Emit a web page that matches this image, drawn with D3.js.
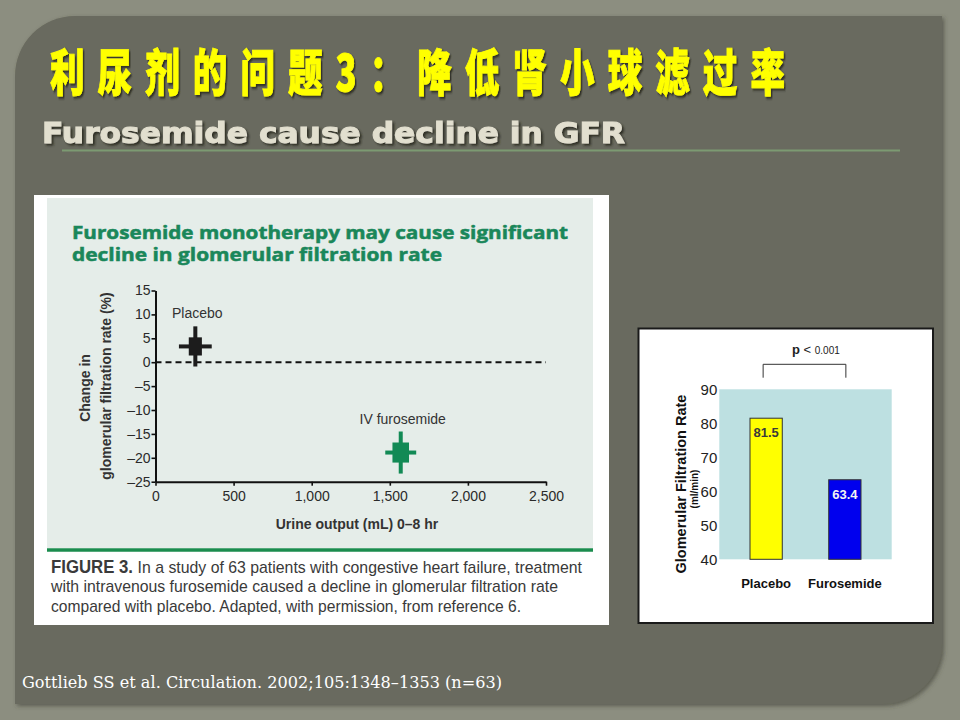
<!DOCTYPE html>
<html>
<head>
<meta charset="utf-8">
<script src="https://cdn.jsdelivr.net/npm/d3@7"></script>
<style>
body { margin: 0; background: #8c8e80; }
svg { display: block; }
</style>
</head>
<body>
<script>
// slide texts
var titleText = "利尿剂的问题3：降低肾小球滤过率";
var subtitleText = "Furosemide cause decline in GFR";
var citation = "Gottlieb SS et al. Circulation. 2002;105:1348–1353 (n=63)";

// left figure: urine output vs change in GFR
var groups = ["Placebo", "IV furosemide"];
var groupColors = ["#1c1c1c", "#128a55"];
var urineOutput = [255, 1570];   // mL 0-8 hr
var urineSE = [42, 53];
var urineSD = [105, 99];
var gfrChange = [3.3, -18.9];    // %
var gfrSE = [1.9, 2.1];
var gfrSD = [4.2, 4.4];
var xTicks = [0, 500, 1000, 1500, 2000, 2500];
var yTicks = [15, 10, 5, 0, -5, -10, -15, -20, -25];
var captionLines = [
    "In a study of 63 patients with congestive heart failure, treatment",
    "with intravenous furosemide caused a decline in glomerular filtration rate",
    "compared with placebo. Adapted, with permission, from reference 6."
];

// right figure: GFR bars
var barCats = ["Placebo", "Furosemide"];
var barValues = [81.5, 63.4];
var barTicks = [40, 50, 60, 70, 80, 90];

var svg = d3.select("body").append("svg")
    .attr("width", 960)
    .attr("height", 720);

var defs = svg.append("defs");
defs.append("filter").attr("id", "shadow")
    .attr("x", "-5%").attr("y", "-20%").attr("width", "110%").attr("height", "140%")
    .append("feDropShadow")
    .attr("dx", 2).attr("dy", 2).attr("stdDeviation", 0.8)
    .attr("flood-color", "#2a2a1a").attr("flood-opacity", 0.9);
defs.append("filter").attr("id", "panelShadow")
    .append("feDropShadow")
    .attr("dx", 2).attr("dy", 2).attr("stdDeviation", 2)
    .attr("flood-color", "#3a3a30").attr("flood-opacity", 0.6);

// dark slide panel, rounded top-left and bottom-right
var L = 15, T = 16, R = 942, B = 704, r = 60;
svg.append("path")
    .attr("d", "M" + L + "," + (T + r) + " A" + r + "," + r + " 0 0 1 " + (L + r) + "," + T +
        " L" + R + "," + T + " L" + R + "," + (B - r) +
        " A" + r + "," + r + " 0 0 1 " + (R - r) + "," + B +
        " L" + L + "," + B + " Z")
    .attr("fill", "#696a5e")
    .attr("filter", "url(#panelShadow)");

// title
svg.append("text")
    .attr("transform", "translate(50,91) scale(0.72,1.05)")
    .attr("textLength", 735 / 0.72)
    .attr("lengthAdjust", "spacing")
    .style("font-family", "'Noto Sans CJK SC'")
    .style("font-weight", 900)
    .style("font-size", "48px")
    .attr("fill", "#ffff00")
    .attr("stroke", "#ffff00").attr("stroke-width", 0.8)
    .attr("filter", "url(#shadow)")
    .text(titleText);

svg.append("text")
    .attr("x", 42).attr("y", 143)
    .attr("textLength", 583)
    .attr("lengthAdjust", "spacingAndGlyphs")
    .style("font-family", "'DejaVu Sans'")
    .style("font-weight", "bold")
    .style("font-size", "29px")
    .attr("fill", "#e2dfcf")
    .attr("stroke", "#e2dfcf").attr("stroke-width", 1)
    .attr("filter", "url(#shadow)")
    .text(subtitleText);

svg.append("line")
    .attr("x1", 62).attr("x2", 900).attr("y1", 150.5).attr("y2", 150.5)
    .attr("stroke", "#7c9a72").attr("stroke-width", 2);

// ---------- left figure ----------
svg.append("rect").attr("x", 34).attr("y", 195).attr("width", 575).attr("height", 430).attr("fill", "#ffffff");
svg.append("rect").attr("x", 47).attr("y", 198).attr("width", 546).attr("height", 350).attr("fill", "#e5ede9");
svg.append("line").attr("x1", 47).attr("x2", 593).attr("y1", 550).attr("y2", 550)
    .attr("stroke", "#1b8c4e").attr("stroke-width", 3.5);

var headG = svg.append("g")
    .style("font-family", "'Open Sans'")
    .style("font-weight", "bold")
    .style("font-size", "17px")
    .attr("fill", "#1a875a")
    .attr("stroke", "#1a875a").attr("stroke-width", 0.5);
headG.append("text").attr("x", 72).attr("y", 239).attr("textLength", 496)
    .attr("lengthAdjust", "spacingAndGlyphs").text("Furosemide monotherapy may cause significant");
headG.append("text").attr("x", 72).attr("y", 261).attr("textLength", 370)
    .attr("lengthAdjust", "spacingAndGlyphs").text("decline in glomerular filtration rate");

var xL = d3.scaleLinear().domain([0, 2500]).range([155.5, 546]);
var yL = d3.scaleLinear().domain([-25, 15]).range([481.7, 290.5]);

var fmtMinus = function (d) { return d < 0 ? "–" + Math.abs(d) : d; };

var yAxisL = svg.append("g")
    .attr("transform", "translate(155.5,0)")
    .call(d3.axisLeft(yL).tickValues(yTicks).tickSizeInner(4).tickSizeOuter(0).tickPadding(1).tickFormat(fmtMinus));
var xAxisL = svg.append("g")
    .attr("transform", "translate(0,481.7)")
    .call(d3.axisBottom(xL).tickValues(xTicks).tickSizeInner(4).tickSizeOuter(0).tickPadding(5).tickFormat(d3.format(",")));

[yAxisL, xAxisL].forEach(function (a) {
    a.select(".domain").attr("stroke", "#111").attr("stroke-width", 2);
    a.selectAll(".tick line").attr("stroke", "#111").attr("stroke-width", 1.6);
    a.selectAll(".tick text")
        .style("font-family", "'Liberation Sans Narrow', 'Liberation Sans'")
        .style("font-size", "14px")
        .attr("fill", "#2a2a2a");
});

// zero reference line
svg.append("line")
    .attr("x1", xL(0)).attr("x2", xL(2500))
    .attr("y1", yL(0)).attr("y2", yL(0))
    .attr("stroke", "#111").attr("stroke-width", 2)
    .attr("stroke-dasharray", "6,4");

// axis titles
var axT = svg.append("g")
    .style("font-family", "'Liberation Sans Narrow', 'Liberation Sans'")
    .style("font-weight", "bold")
    .style("font-size", "14px")
    .attr("fill", "#333");
axT.append("text").attr("transform", "translate(90,388) rotate(-90)")
    .attr("text-anchor", "middle").text("Change in");
axT.append("text").attr("transform", "translate(111,386) rotate(-90)")
    .attr("text-anchor", "middle").text("glomerular filtration rate (%)");
axT.append("text").attr("x", 357).attr("y", 529)
    .attr("text-anchor", "middle").text("Urine output (mL) 0–8 hr");

// markers: SD whiskers and SE box
var idx = d3.range(groups.length);
var mk = svg.append("g").selectAll("g").data(idx).join("g")
    .attr("fill", function (i) { return groupColors[i]; });
mk.append("rect")
    .attr("x", function (i) { return xL(urineOutput[i] - urineSD[i]); })
    .attr("width", function (i) { return xL(urineOutput[i] + urineSD[i]) - xL(urineOutput[i] - urineSD[i]); })
    .attr("y", function (i) { return yL(gfrChange[i]) - 2; })
    .attr("height", 4);
mk.append("rect")
    .attr("x", function (i) { return xL(urineOutput[i]) - 2; })
    .attr("width", 4)
    .attr("y", function (i) { return yL(gfrChange[i] + gfrSD[i]); })
    .attr("height", function (i) { return yL(gfrChange[i] - gfrSD[i]) - yL(gfrChange[i] + gfrSD[i]); });
mk.append("rect")
    .attr("x", function (i) { return xL(urineOutput[i] - urineSE[i]); })
    .attr("width", function (i) { return xL(urineOutput[i] + urineSE[i]) - xL(urineOutput[i] - urineSE[i]); })
    .attr("y", function (i) { return yL(gfrChange[i] + gfrSE[i]); })
    .attr("height", function (i) { return yL(gfrChange[i] - gfrSE[i]) - yL(gfrChange[i] + gfrSE[i]); });
mk.append("text")
    .attr("x", function (i) { return xL(urineOutput[i]) + 2; })
    .attr("y", function (i) { return yL(gfrChange[i] + gfrSD[i]) - 8; })
    .attr("text-anchor", "middle")
    .style("font-family", "'Liberation Sans Narrow', 'Liberation Sans'")
    .style("font-size", "14px")
    .attr("fill", "#333")
    .text(function (i) { return groups[i]; });

// caption
var cap = svg.append("g")
    .style("font-family", "'Liberation Sans Narrow', 'Liberation Sans'")
    .style("font-size", "17px")
    .attr("fill", "#3a3a3a");
var capLens = [531, 507, 470];
captionLines.forEach(function (t, i) {
    var tx = cap.append("text").attr("x", 51).attr("y", 572.5 + i * 19.5)
        .attr("textLength", capLens[i]).attr("lengthAdjust", "spacingAndGlyphs");
    if (i === 0) {
        tx.append("tspan").style("font-weight", "bold").style("font-size", "18px").text("FIGURE 3. ");
    }
    tx.append("tspan").text(t);
});

// ---------- right figure ----------
svg.append("rect").attr("x", 638.5).attr("y", 328.5).attr("width", 294.5).attr("height", 294.5)
    .attr("fill", "#ffffff").attr("stroke", "#1a1a1a").attr("stroke-width", 2);

var xR = d3.scaleBand().domain(barCats).range([719.3, 891.7]).paddingInner(0.59).paddingOuter(0.39);
var yR = d3.scaleLinear().domain([40, 90]).range([559.3, 389.3]);

svg.append("rect")
    .attr("x", 719.3).attr("y", yR(90))
    .attr("width", 891.7 - 719.3).attr("height", yR(40) - yR(90))
    .attr("fill", "#bde0e1");

var yAxisR = svg.append("g")
    .attr("transform", "translate(719.3,0)")
    .call(d3.axisLeft(yR).tickValues(barTicks).tickSize(0).tickPadding(2));
yAxisR.select(".domain").remove();
yAxisR.selectAll(".tick text")
    .style("font-family", "'Liberation Sans'")
    .style("font-size", "15px")
    .attr("fill", "#222");

var barColors = ["#ffff00", "#0000ee"];
var labelColors = ["#3a3a3a", "#f4f4f4"];
svg.append("g").selectAll("rect").data(barCats).join("rect")
    .attr("x", function (d) { return xR(d); })
    .attr("width", xR.bandwidth())
    .attr("y", function (d, i) { return yR(barValues[i]); })
    .attr("height", function (d, i) { return yR(40) - yR(barValues[i]); })
    .attr("fill", function (d, i) { return barColors[i]; })
    .attr("stroke", "#333").attr("stroke-width", 1);

var rf = svg.append("g")
    .style("font-family", "'Liberation Sans'")
    .style("font-weight", "bold")
    .attr("text-anchor", "middle");
rf.selectAll(".val").data(barCats).join("text")
    .attr("class", "val")
    .attr("x", function (d) { return xR(d) + xR.bandwidth() / 2; })
    .attr("y", function (d, i) { return yR(barValues[i]) + 19; })
    .style("font-size", "13px")
    .attr("fill", function (d, i) { return labelColors[i]; })
    .text(function (d, i) { return barValues[i].toFixed(1); });
rf.selectAll(".cat").data(barCats).join("text")
    .attr("class", "cat")
    .attr("x", function (d) { return xR(d) + xR.bandwidth() / 2; })
    .attr("y", 588)
    .style("font-size", "13px")
    .attr("fill", "#111")
    .text(function (d) { return d; });

rf.append("text")
    .attr("transform", "translate(686,484) rotate(-90)")
    .style("font-size", "14.5px")
    .attr("fill", "#111")
    .text("Glomerular Filtration Rate");
rf.append("text")
    .attr("transform", "translate(698,489) rotate(-90)")
    .style("font-size", "10px")
    .attr("fill", "#111")
    .text("(ml/min)");

// significance bracket
var bx1 = xR(barCats[0]) + xR.bandwidth() / 2 - 3;
var bx2 = xR(barCats[1]) + xR.bandwidth() / 2 + 1;
svg.append("path")
    .attr("d", "M" + bx1 + ",377.7 V364.3 H" + bx2 + " V377.7")
    .attr("fill", "none").attr("stroke", "#333").attr("stroke-width", 1);
var pt = svg.append("text")
    .attr("x", 792).attr("y", 353.5)
    .style("font-family", "'Liberation Sans'")
    .attr("fill", "#222");
pt.append("tspan").style("font-weight", "bold").style("font-size", "13px").text("p ");
pt.append("tspan").style("font-size", "13px").text("< ");
pt.append("tspan").style("font-size", "10px").text("0.001");

// citation
svg.append("text")
    .attr("x", 22).attr("y", 688)
    .attr("textLength", 480)
    .attr("lengthAdjust", "spacingAndGlyphs")
    .style("font-family", "'DejaVu Serif'")
    .style("font-size", "16px")
    .attr("fill", "#ffffff")
    .text(citation);
</script>
</body>
</html>
